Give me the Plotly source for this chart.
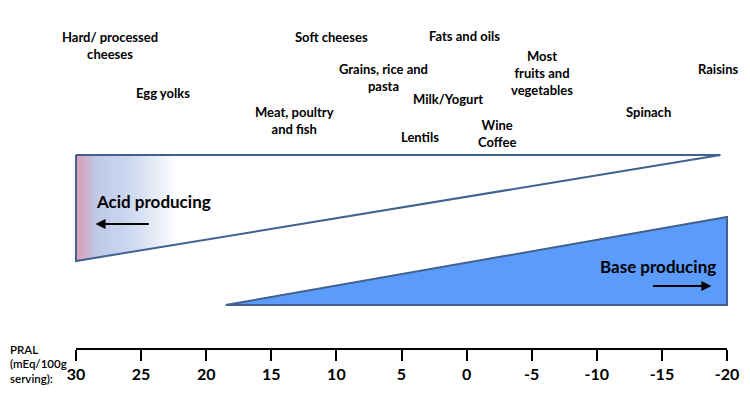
import plotly.graph_objects as go

# ---- data ----
foods = ["Hard/ processed<br>cheeses", "Egg yolks", "Meat, poultry<br>and fish",
         "Soft cheeses", "Grains, rice and<br>pasta", "Milk/Yogurt", "Lentils",
         "Fats and oils", "Wine<br>Coffee", "Most<br>fruits and<br>vegetables",
         "Spinach", "Raisins"]
food_pral = [27.4, 23.3, 13.25, 10.4, 6.4, 1.4, 3.6, 0.2, -2.3, -5.8, -14.0, -19.35]
tick_vals = [30, 25, 20, 15, 10, 5, 0, -5, -10, -15, -20]
tick_text = ["30", "25", "20", "15", "10", "5", "0", "-5", "-10", "-15", "-20"]
axis_title_lines = ["PRAL", "(mEq/100g", "serving):"]
acid_range = [30, -19.5]   # acid producing wedge (PRAL from..to)
base_range = [18.5, -20]   # base producing wedge (PRAL from..to)

# ---- layout positions (vertical, page pixels from top) ----
food_y = [45.5, 93, 120.5, 37, 77.5, 99, 136.5, 36, 133.5, 73, 112, 68.5]
title_y = [349, 363.5, 378]
AXIS_Y = 349
ACID_TOP, ACID_BOT = 155, 261
BASE_TOP, BASE_BOT = 217, 305
W, H = 750, 405
OFF = 8  # page body margin
FONT = "Lato"

fig = go.Figure()

# acid producing wedge
fig.add_trace(go.Scatter(
    x=[acid_range[0], acid_range[1], acid_range[0], acid_range[0]],
    y=[ACID_TOP, ACID_TOP, ACID_BOT, ACID_TOP],
    mode="lines", fill="toself",
    fillgradient=dict(type="horizontal", start=acid_range[0], stop=acid_range[1],
                      colorscale=[[0, "#d99fb2"], [0.012, "#d2abc6"], [0.03, "#c0c8e6"],
                                  [0.08, "#cad7ef"], [0.16, "#ffffff"], [1, "#ffffff"]]),
    line=dict(color="#41618f", width=2), hoverinfo="skip", showlegend=False))

# base producing wedge
fig.add_trace(go.Scatter(
    x=[base_range[0], base_range[1], base_range[1], base_range[0]],
    y=[BASE_BOT, BASE_BOT, BASE_TOP, BASE_BOT],
    mode="lines", fill="toself", fillcolor="#5b9bfb",
    line=dict(color="#41618f", width=2), hoverinfo="skip", showlegend=False))

# axis baseline
fig.add_trace(go.Scatter(
    x=[tick_vals[0], tick_vals[-1]], y=[AXIS_Y, AXIS_Y], mode="lines",
    line=dict(color="black", width=2), hoverinfo="skip", showlegend=False))

# food labels
for name, xv, yv in zip(foods, food_pral, food_y):
    fig.add_annotation(x=xv, y=yv, xref="x", yref="y", text=name, showarrow=False,
                       font=dict(family=FONT, size=13, color="black", weight="bold"),
                       xanchor="center", yanchor="middle", align="center")

# wedge captions and arrows
fig.add_annotation(x=28.6, y=201, xref="x", yref="y", text="Acid producing", showarrow=False,
                   font=dict(family=FONT, size=17, color="black", weight="bold"),
                   xanchor="left", yanchor="middle")
fig.add_annotation(x=28.5, y=224, ax=24.3, ay=224, xref="x", yref="y", axref="x", ayref="y",
                   text="", showarrow=True, arrowhead=2, arrowsize=1, arrowwidth=2,
                   arrowcolor="black")
fig.add_annotation(x=-19.3, y=266, xref="x", yref="y", text="Base producing", showarrow=False,
                   font=dict(family=FONT, size=17, color="black", weight="bold"),
                   xanchor="right", yanchor="middle")
fig.add_annotation(x=-18.8, y=286, ax=-14.2, ay=286, xref="x", yref="y", axref="x", ayref="y",
                   text="", showarrow=True, arrowhead=2, arrowsize=1, arrowwidth=2,
                   arrowcolor="black")

px_per_unit = (727 - 76) / 50.0

# axis title (left of axis)
for line, yv in zip(axis_title_lines, title_y):
    fig.add_annotation(x=30 + (76 - 8) / px_per_unit, y=yv, xref="x", yref="y",
                       text=line, showarrow=False,
                       font=dict(family=FONT, size=11.5, color="black", weight=600),
                       xanchor="left", yanchor="middle", align="left")

x_left = 30 + (76 - OFF) / px_per_unit
x_right = -20 - (W + OFF - 727) / px_per_unit

fig.update_layout(
    width=W, height=H, margin=dict(l=0, r=0, t=0, b=0),
    paper_bgcolor="white", plot_bgcolor="white",
    xaxis=dict(range=[x_left, x_right], domain=[0, 1], anchor="free",
               position=(H + OFF - AXIS_Y) / H, showline=False, showgrid=False, zeroline=False,
               tickmode="array", tickvals=tick_vals, ticktext=tick_text,
               ticks="outside", ticklen=11, tickwidth=2, tickcolor="black",
               tickfont=dict(family=FONT, size=16, color="black", weight="bold")),
    yaxis=dict(range=[H + OFF, OFF], domain=[0, 1], visible=False),
    showlegend=False,
)

fig.write_html("out.html")
